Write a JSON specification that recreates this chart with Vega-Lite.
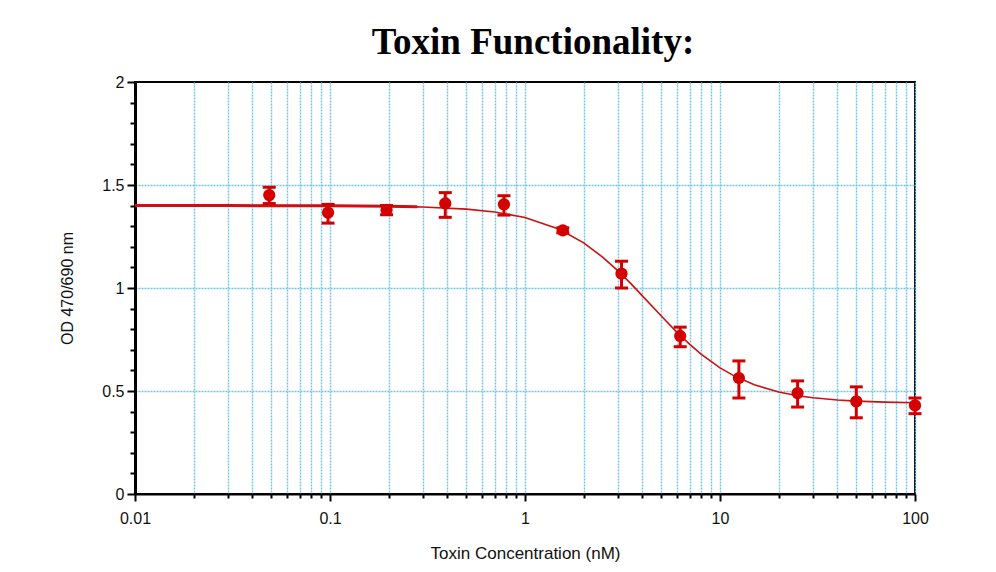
{
  "$schema": "https://vega.github.io/schema/vega-lite/v6.json",
  "autosize": "none",
  "width": 780,
  "height": 412,
  "padding": {"left": 135, "top": 82, "right": 81, "bottom": 78},
  "background": "white",
  "title": {
    "text": "Toxin Functionality:",
    "font": "Liberation Serif",
    "fontSize": 37,
    "fontWeight": "bold",
    "color": "black",
    "anchor": "middle",
    "offset": 12,
    "dx": 8
  },
  "config": {
    "view": {"stroke": "black", "strokeWidth": 2},
    "axis": {
      "labelFont": "Liberation Sans",
      "titleFont": "Liberation Sans",
      "labelFontSize": 16,
      "titleFontSize": 17,
      "titleFontWeight": "normal",
      "labelColor": "#111",
      "titleColor": "#111",
      "domainColor": "black",
      "tickColor": "black",
      "gridColor": "#72c4ea",
      "gridDash": [2, 1],
      "gridWidth": 1.4
    }
  },
  "datasets": {
    "points": [
      {"c": 0.0488, "od": 1.451, "lo": 1.41, "hi": 1.489},
      {"c": 0.0977, "od": 1.366, "lo": 1.315, "hi": 1.406},
      {"c": 0.195, "od": 1.379, "lo": 1.355, "hi": 1.40},
      {"c": 0.39, "od": 1.411, "lo": 1.343, "hi": 1.463},
      {"c": 0.78, "od": 1.406, "lo": 1.354, "hi": 1.448},
      {"c": 1.5625, "od": 1.28, "lo": 1.268, "hi": 1.292},
      {"c": 3.125, "od": 1.07, "lo": 1.0, "hi": 1.13},
      {"c": 6.25, "od": 0.767, "lo": 0.715, "hi": 0.81},
      {"c": 12.5, "od": 0.563, "lo": 0.466, "hi": 0.646},
      {"c": 25, "od": 0.49, "lo": 0.422, "hi": 0.549},
      {"c": 50, "od": 0.45, "lo": 0.37, "hi": 0.52},
      {"c": 100, "od": 0.43, "lo": 0.39, "hi": 0.466}
    ],
    "curve": [
      {"c": 0.01, "od": 1.40},
      {"c": 0.03, "od": 1.40},
      {"c": 0.1, "od": 1.399},
      {"c": 0.2, "od": 1.397},
      {"c": 0.28, "od": 1.394},
      {"c": 0.3, "od": 1.393},
      {"c": 0.5, "od": 1.383},
      {"c": 0.7, "od": 1.369},
      {"c": 1, "od": 1.342},
      {"c": 1.5, "od": 1.285},
      {"c": 2, "od": 1.219},
      {"c": 2.5, "od": 1.15},
      {"c": 3, "od": 1.083},
      {"c": 3.5, "od": 1.02},
      {"c": 4, "od": 0.962},
      {"c": 5, "od": 0.864},
      {"c": 6, "od": 0.786},
      {"c": 7, "od": 0.726},
      {"c": 8, "od": 0.679},
      {"c": 10, "od": 0.612},
      {"c": 12, "od": 0.57},
      {"c": 15, "od": 0.53},
      {"c": 20, "od": 0.495},
      {"c": 25, "od": 0.477},
      {"c": 30, "od": 0.467},
      {"c": 40, "od": 0.456},
      {"c": 50, "od": 0.451},
      {"c": 70, "od": 0.446},
      {"c": 100, "od": 0.443}
    ]
  },
  "layer": [
    {
      "data": {"name": "curve"},
      "mark": {"type": "line", "color": "#cc1111", "strokeWidth": 1.6, "clip": true},
      "encoding": {
        "x": {
          "field": "c",
          "type": "quantitative",
          "scale": {"type": "log", "domain": [0.01, 100], "nice": false},
          "axis": {
            "title": "Toxin Concentration (nM)",
            "titlePadding": 19,
            "tickCount": 200,
            "values": [0.01, 0.02, 0.03, 0.04, 0.05, 0.06, 0.07, 0.08, 0.09, 0.1, 0.2, 0.3, 0.4, 0.5, 0.6, 0.7, 0.8, 0.9, 1, 2, 3, 4, 5, 6, 7, 8, 9, 10, 20, 30, 40, 50, 60, 70, 80, 90, 100],
            "format": "~g",
            "labelExpr": "indexof([0.01, 0.1, 1, 10, 100], datum.value) >= 0 ? datum.label : ''",
            "tickSize": {"condition": {"test": "indexof([0.01, 0.1, 1, 10, 100], datum.value) >= 0", "value": 7}, "value": 4},
            "tickWidth": 2,
            "domainWidth": 2,
            "labelPadding": 9,
            "labelOverlap": false,
            "grid": true,
            "labelFlush": false
          }
        },
        "y": {
          "field": "od",
          "type": "quantitative",
          "scale": {"domain": [0, 2], "nice": false, "zero": true},
          "axis": {
            "title": "OD 470/690 nm",
            "titleFontSize": 16,
            "titlePadding": 26,
            "tickCount": 200,
            "values": [0, 0.1, 0.2, 0.3, 0.4, 0.5, 0.6, 0.7, 0.8, 0.9, 1, 1.1, 1.2, 1.3, 1.4, 1.5, 1.6, 1.7, 1.8, 1.9, 2],
            "format": "~g",
            "labelExpr": "indexof([0, 0.5, 1, 1.5, 2], datum.value) >= 0 ? datum.label : ''",
            "tickSize": {"condition": {"test": "indexof([0, 0.5, 1, 1.5, 2], datum.value) >= 0", "value": 8}, "value": 5},
            "tickWidth": 2,
            "domainWidth": 3,
            "labelPadding": 3,
            "labelOverlap": false,
            "grid": true,
            "gridOpacity": {"condition": {"test": "indexof([0.5, 1, 1.5], datum.value) >= 0", "value": 1}, "value": 0},
            "labelFlush": false
          }
        }
      }
    },
    {
      "data": {"name": "curve"},
      "transform": [{"filter": "datum.c <= 0.28"}],
      "mark": {"type": "line", "color": "#cc1111", "strokeWidth": 3},
      "encoding": {
        "x": {"field": "c", "type": "quantitative"},
        "y": {"field": "od", "type": "quantitative"}
      }
    },
    {
      "data": {"name": "points"},
      "mark": {"type": "rule", "color": "#d40000", "strokeWidth": 3},
      "encoding": {
        "x": {"field": "c", "type": "quantitative"},
        "y": {"field": "lo", "type": "quantitative"},
        "y2": {"field": "hi"}
      }
    },
    {
      "data": {"name": "points"},
      "mark": {"type": "tick", "orient": "horizontal", "color": "#d40000", "size": 13, "thickness": 3, "opacity": 1},
      "encoding": {
        "x": {"field": "c", "type": "quantitative"},
        "y": {"field": "lo", "type": "quantitative"}
      }
    },
    {
      "data": {"name": "points"},
      "mark": {"type": "tick", "orient": "horizontal", "color": "#d40000", "size": 13, "thickness": 3, "opacity": 1},
      "encoding": {
        "x": {"field": "c", "type": "quantitative"},
        "y": {"field": "hi", "type": "quantitative"}
      }
    },
    {
      "data": {"name": "points"},
      "mark": {"type": "circle", "color": "#d40000", "size": 150, "opacity": 1},
      "encoding": {
        "x": {"field": "c", "type": "quantitative"},
        "y": {"field": "od", "type": "quantitative"}
      }
    }
  ]
}
